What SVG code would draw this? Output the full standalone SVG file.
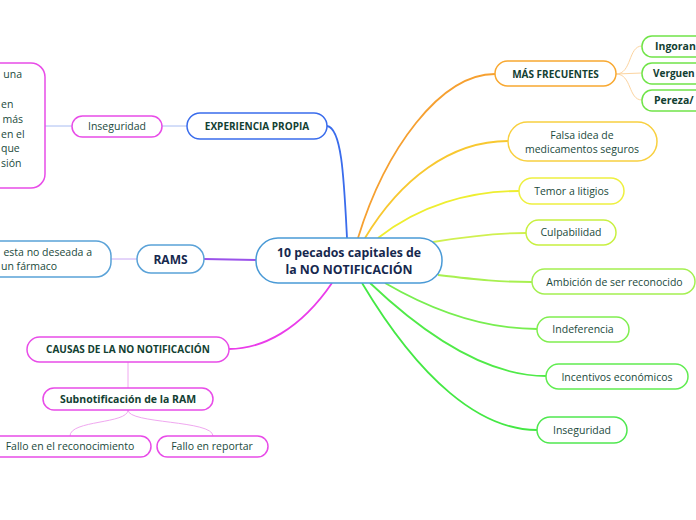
<svg xmlns="http://www.w3.org/2000/svg" width="696" height="520" viewBox="0 0 696 520">
<style>
  .n{fill:#fff;stroke-width:1.5}
  .t{font-family:"Open Sans","Noto Sans","Liberation Sans",sans-serif;font-size:10.5px;fill:#1b4a3c;text-anchor:middle}
  .b{font-weight:bold;font-size:10px;fill:#124032}
  .title{font-family:"Open Sans","Noto Sans","Liberation Sans",sans-serif;font-size:12.3px;font-weight:bold;fill:#16284e;text-anchor:middle}
  .c{fill:none;stroke-width:1.8}
  .s{fill:none;stroke-width:1}
  .l{text-anchor:start}
</style>
<rect width="696" height="520" fill="#fff"/>
<g id="connectors">
  <path class="c" d="M347,238 C344,180 342,128 327,126" stroke="#3a6cec"/>
  <path class="s" d="M162,126 L187,126" stroke="#a8bcf2"/>
  <path class="s" d="M45,126 L72,126" stroke="#a8bcf2"/>
  <path class="c" d="M256,260 L204,259" stroke="#9a52ea"/>
  <path class="s" d="M111,259 L137,259" stroke="#c8a8f4"/>
  <path class="c" d="M332,283 C300,330 262,349 229,349" stroke="#ea3cea"/>
  <path class="s" d="M128,362 L128,388" stroke="#f0a8f0"/>
  <path class="s" d="M128,410 C128,424 70,420 70,436" stroke="#f0a8f0"/>
  <path class="s" d="M128,410 C128,424 213,420 213,436" stroke="#f0a8f0"/>
  <path class="c" d="M358,238 C385,150 440,74 495,74" stroke="#f6a030"/>
  <path class="s" d="M616,74 C632,74 628,46 642,46" stroke="#fcd4a0"/>
  <path class="s" d="M616,74 L642,73" stroke="#fcd4a0"/>
  <path class="s" d="M616,74 C632,74 628,100 642,100" stroke="#fcd4a0"/>
  <path class="c" d="M365,238 C400,180 450,141 508,141" stroke="#f8c830"/>
  <path class="c" d="M378,238 C420,205 470,191 519,191" stroke="#eeee30"/>
  <path class="c" d="M433,242 C470,236 500,233 526,233" stroke="#d0f050"/>
  <path class="c" d="M438,275 C480,280 500,282 532,282" stroke="#a8f050"/>
  <path class="c" d="M385,283 C440,315 490,329 537,329" stroke="#78ee50"/>
  <path class="c" d="M370,283 C430,340 490,376 546,376" stroke="#50ea48"/>
  <path class="c" d="M362,283 C420,380 480,430 537,430" stroke="#44e844"/>
</g>
<g id="center">
  <rect class="n" x="256" y="238" width="186" height="45" rx="22" stroke="#4a9ad6"/>
  <text class="title" x="349" y="257">10 pecados capitales de</text>
  <text class="title" x="349" y="274">la NO NOTIFICACIÓN</text>
</g>
<g id="experiencia">
  <rect class="n" x="187" y="113" width="140" height="26" rx="13" stroke="#3a6cec"/>
  <text class="t b" x="257" y="130">EXPERIENCIA PROPIA</text>
</g>
<g id="inseguridad-left">
  <rect class="n" x="72" y="116" width="90" height="21" rx="10.5" stroke="#e84ce8"/>
  <text class="t" x="117" y="130">Inseguridad</text>
</g>
<g id="texto-experiencia">
  <rect class="n" x="-100" y="63" width="145" height="125" rx="14" stroke="#e84ce8"/>
  <text class="t" style="text-anchor:end" x="22" y="78">una</text>
  <text class="t l" x="1" y="108">en</text>
  <text class="t" style="text-anchor:end" x="23" y="123">más</text>
  <text class="t l" x="1" y="138">en el</text>
  <text class="t l" x="1" y="152">que</text>
  <text class="t l" x="1" y="167">sión</text>
</g>
<g id="rams">
  <rect class="n" x="137" y="245" width="67" height="28" rx="14" stroke="#5aa2d8"/>
  <text class="title" style="font-size:12px" x="170.5" y="264">RAMS</text>
</g>
<g id="rams-def">
  <rect class="n" x="-100" y="241" width="211" height="36" rx="15" stroke="#5aa2d8"/>
  <text class="t" style="text-anchor:end" x="92" y="256">esta no deseada a</text>
  <text class="t l" x="1" y="270">un fármaco</text>
</g>
<g id="causas">
  <rect class="n" x="27" y="337" width="202" height="25" rx="12.5" stroke="#e84ce8"/>
  <text class="t b" x="128" y="353">CAUSAS DE LA NO NOTIFICACIÓN</text>
</g>
<g id="subnotificacion">
  <rect class="n" x="43" y="388" width="170" height="22" rx="11" stroke="#e84ce8"/>
  <text class="t b" style="font-size:10.5px" x="128" y="403">Subnotificación de la RAM</text>
</g>
<g id="fallo-reconocimiento">
  <rect class="n" x="-10" y="436" width="161" height="21" rx="10.5" stroke="#e84ce8"/>
  <text class="t" x="70" y="450">Fallo en el reconocimiento</text>
</g>
<g id="fallo-reportar">
  <rect class="n" x="157" y="436" width="111" height="21" rx="10.5" stroke="#e84ce8"/>
  <text class="t" x="212" y="450">Fallo en reportar</text>
</g>
<g id="mas-frecuentes">
  <rect class="n" x="495" y="61" width="121" height="25" rx="12.5" stroke="#f8a830"/>
  <text class="t b" x="555.5" y="77.5">MÁS FRECUENTES</text>
</g>
<g id="ingorancia">
  <rect class="n" x="642" y="36" width="80" height="21" rx="10" stroke="#70e448"/>
  <text class="t b l" style="font-size:10.5px" x="655" y="50">Ingoran</text>
</g>
<g id="verguenza">
  <rect class="n" x="642" y="63" width="80" height="21" rx="10" stroke="#70e448"/>
  <text class="t b l" style="font-size:10px" x="653" y="77">Verguen</text>
</g>
<g id="pereza">
  <rect class="n" x="642" y="90" width="80" height="21" rx="10" stroke="#70e448"/>
  <text class="t b l" style="font-size:10.5px" x="654" y="104">Pereza/</text>
</g>
<g id="falsa-idea">
  <rect class="n" x="508" y="122" width="149" height="39" rx="19.5" stroke="#f8d040"/>
  <text class="t" x="582" y="139">Falsa idea de</text>
  <text class="t" x="582" y="153">medicamentos seguros</text>
</g>
<g id="temor">
  <rect class="n" x="519" y="178" width="105" height="26" rx="13" stroke="#eef040"/>
  <text class="t" x="571.5" y="195">Temor a litigios</text>
</g>
<g id="culpabilidad">
  <rect class="n" x="526" y="220" width="90" height="25" rx="12.5" stroke="#c8f040"/>
  <text class="t" x="571" y="236">Culpabilidad</text>
</g>
<g id="ambicion">
  <rect class="n" x="532" y="269" width="163" height="25" rx="12.5" stroke="#a4f050"/>
  <text class="t" x="614.5" y="285.5">Ambición de ser reconocido</text>
</g>
<g id="indeferencia">
  <rect class="n" x="537" y="317" width="92" height="25" rx="12.5" stroke="#80ee50"/>
  <text class="t" x="583" y="333">Indeferencia</text>
</g>
<g id="incentivos">
  <rect class="n" x="546" y="364" width="142" height="25" rx="12.5" stroke="#60ec50"/>
  <text class="t" x="617" y="380.5">Incentivos económicos</text>
</g>
<g id="inseguridad-right">
  <rect class="n" x="537" y="417" width="90" height="26" rx="13" stroke="#50e850"/>
  <text class="t" x="582" y="434">Inseguridad</text>
</g>
</svg>
